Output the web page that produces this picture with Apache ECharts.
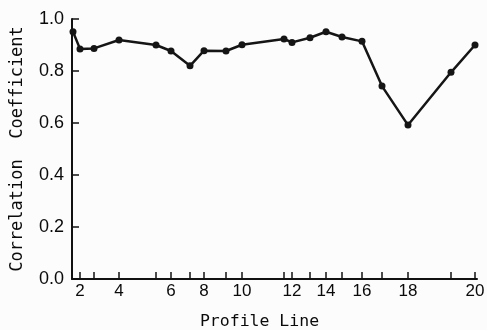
<!DOCTYPE html>
<html>
<head>
<meta charset="utf-8">
<script src="https://cdn.jsdelivr.net/npm/echarts@6/dist/echarts.min.js"></script>
<style>html,body{margin:0;padding:0;background:#fcfcfc;}#chart{width:487px;height:330px;}</style>
</head>
<body>
<div id="chart"></div>
<script>
// Profile line numbers and their along-track position (arbitrary distance units)
const profileLines = [1, 2, 3, 4, 5, 6, 7, 8, 9, 10, 11, 12, 13, 14, 15, 16, 17, 18, 19, 20];
const profileDistance = [1, 8, 22, 47, 84, 99, 118, 132, 154, 170, 212, 220, 238, 254, 270, 290, 310, 336, 379, 403];
const correlation = [0.951, 0.885, 0.887, 0.919, 0.900, 0.877, 0.820, 0.878, 0.877, 0.901, 0.923, 0.910, 0.928, 0.951, 0.931, 0.914, 0.742, 0.592, 0.795, 0.900];
const xLabelLines = [2, 4, 6, 8, 10, 12, 14, 16, 18, 20];
const yTicks = [0.0, 0.2, 0.4, 0.6, 0.8, 1.0];

const distOf = n => profileDistance[profileLines.indexOf(n)];
const tickDist = profileLines.filter(n => n >= 2).map(distOf);
const labelDist = xLabelLines.map(distOf);
const lineOfDist = d => profileLines[profileDistance.indexOf(d)];

const chart = echarts.init(document.getElementById('chart'));
chart.setOption({
  backgroundColor: '#fcfcfc',
  animation: false,
  grid: { left: 72, right: 10, top: 19, bottom: 51, containLabel: false, outerBoundsMode: 'none' },
  xAxis: {
    type: 'value', min: 0, max: 405,
    name: 'Profile Line', nameLocation: 'middle', nameGap: 34,
    nameTextStyle: { fontFamily: 'DejaVu Sans Mono', fontSize: 16.5, color: '#0a0a0a', padding: [0, 30, 0, 0] },
    axisLine: { show: true, lineStyle: { color: '#111', width: 2 } },
    axisTick: { show: true, inside: true, length: 7, lineStyle: { color: '#111', width: 1.5 }, customValues: tickDist },
    axisLabel: { customValues: labelDist, formatter: v => String(lineOfDist(v)), fontFamily: 'Liberation Sans', fontSize: 17, color: '#0a0a0a', margin: 4 },
    splitLine: { show: false }
  },
  yAxis: {
    type: 'value', min: 0, max: 1, interval: 0.2,
    name: 'Correlation  Coefficient', nameLocation: 'middle', nameGap: 46, nameRotate: 90,
    nameTextStyle: { fontFamily: 'DejaVu Sans Mono', fontSize: 17, color: '#0a0a0a' },
    axisLine: { show: true, lineStyle: { color: '#111', width: 2 } },
    axisTick: { show: true, inside: true, length: 7, lineStyle: { color: '#111', width: 1.5 } },
    axisLabel: { formatter: v => v.toFixed(1), fontFamily: 'Liberation Sans', fontSize: 18, color: '#0a0a0a', margin: 8 },
    splitLine: { show: false }
  },
  series: [{
    type: 'line',
    data: profileDistance.map((d, i) => [d, correlation[i]]),
    symbol: 'circle', symbolSize: 7,
    itemStyle: { color: '#151515' },
    lineStyle: { color: '#151515', width: 2.5 },
    clip: false
  }]
});
</script>
</body>
</html>
